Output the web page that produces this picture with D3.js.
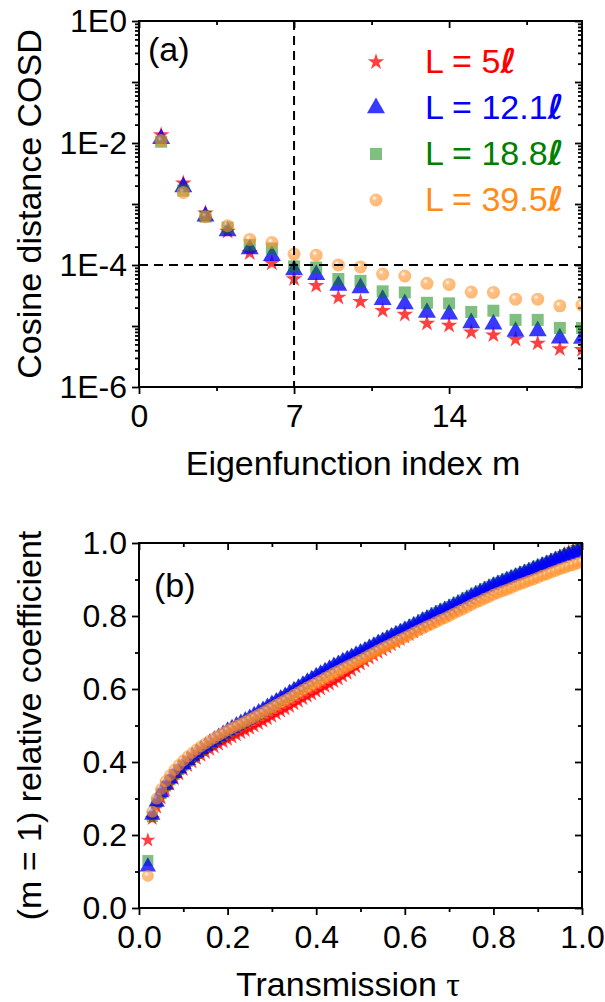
<!DOCTYPE html>
<html>
<head>
<meta charset="utf-8">
<script src="https://cdn.jsdelivr.net/npm/d3@7"></script>
<style>
body { margin: 0; background: #fff; }
svg { display: block; font-family: "Liberation Sans", Arial, sans-serif; }
</style>
</head>
<body>
<svg id="chart"></svg>
<script>
let w = 605;
let h = 1002;

// ---- panel (a): cosine distance vs eigenfunction index
let modeIndex = [1, 2, 3, 4, 5, 6, 7, 8, 9, 10, 11, 12, 13, 14, 15, 16, 17, 18, 19, 20];
let cosdL5 = [1.35e-2, 2.2e-3, 7.1e-4, 3.55e-4, 1.58e-4, 1.07e-4, 5.9e-5, 4.6e-5, 2.95e-5, 2.5e-5,
    1.78e-5, 1.55e-5, 1.1e-5, 1.02e-5, 7.9e-6, 7.1e-6, 6.0e-6, 5.2e-6, 4.2e-6, 4.1e-6];
let cosdL12 = [1.17e-2, 1.9e-3, 6.3e-4, 3.6e-4, 1.82e-4, 1.41e-4, 8.3e-5, 6.9e-5, 4.6e-5, 4.2e-5,
    2.7e-5, 2.3e-5, 1.66e-5, 1.55e-5, 1.12e-5, 1.07e-5, 8.1e-6, 8.3e-6, 6.3e-6, 6.2e-6];
let cosdL18 = [1.05e-2, 1.66e-3, 6.2e-4, 4.1e-4, 2.14e-4, 1.86e-4, 9.5e-5, 9.1e-5, 5.9e-5, 5.5e-5,
    3.7e-5, 3.55e-5, 2.4e-5, 2.35e-5, 1.7e-5, 1.78e-5, 1.26e-5, 1.26e-5, 9.3e-6, 9.3e-6];
let cosdL39 = [1.1e-2, 1.55e-3, 6.2e-4, 4.4e-4, 2.63e-4, 2.34e-4, 1.51e-4, 1.45e-4, 1.0e-4, 9.3e-5,
    7.1e-5, 6.6e-5, 5.0e-5, 4.8e-5, 3.6e-5, 3.55e-5, 2.75e-5, 2.75e-5, 2.14e-5, 2.2e-5];
let yTicksA = [1, 1e-2, 1e-4, 1e-6];
let yTickLabelsA = ['1E0', '1E-2', '1E-4', '1E-6'];
let xTicksA = [0, 7, 14];
let cutIndex = 7;
let cutCosd = 1e-4;

// ---- panel (b): relative coefficient of m = 1 vs transmission
let tau = d3.range(2, 101).map(i => i / 100);
let coefL5 = [.186,.245,.276,.301,.322,.339,.354,.367,.379,.390,
    .400,.409,.418,.426,.434,.441,.448,.455,.462,.468,
    .474,.480,.486,.492,.498,.505,.511,.518,.525,.532,
    .539,.545,.552,.559,.566,.573,.580,.586,.593,.600,
    .607,.613,.620,.627,.635,.643,.651,.660,.668,.676,
    .684,.692,.700,.707,.714,.721,.728,.735,.742,.749,
    .756,.763,.770,.777,.784,.791,.797,.803,.810,.816,
    .823,.830,.837,.844,.851,.857,.864,.870,.877,.882,
    .887,.892,.897,.903,.909,.915,.921,.927,.933,.940,
    .946,.952,.958,.964,.970,.976,.982,.988,.994];
let coefL12 = [.113,.255,.290,.316,.337,.354,.369,.382,.394,.405,
    .416,.426,.435,.444,.453,.461,.469,.477,.486,.493,
    .500,.507,.514,.521,.528,.536,.543,.551,.559,.566,
    .574,.581,.589,.597,.604,.612,.620,.627,.635,.642,
    .649,.656,.663,.669,.676,.682,.688,.694,.700,.706,
    .713,.719,.726,.732,.738,.744,.750,.756,.762,.768,
    .774,.780,.787,.793,.799,.805,.811,.816,.822,.828,
    .834,.840,.846,.853,.859,.865,.871,.877,.883,.888,
    .893,.898,.903,.908,.913,.918,.923,.928,.933,.938,
    .943,.948,.953,.958,.963,.967,.971,.975,.979];
let coefL18 = [.130,.250,.288,.313,.334,.351,.366,.379,.391,.402,
    .413,.423,.432,.441,.450,.458,.466,.474,.483,.490,
    .497,.504,.511,.518,.525,.533,.540,.548,.556,.564,
    .572,.579,.587,.595,.603,.611,.619,.626,.634,.641,
    .648,.655,.662,.669,.676,.682,.688,.694,.700,.707,
    .714,.720,.727,.733,.739,.746,.752,.758,.764,.770,
    .777,.783,.790,.796,.802,.809,.815,.820,.826,.832,
    .838,.844,.851,.857,.863,.869,.875,.881,.887,.892,
    .897,.902,.907,.912,.917,.922,.927,.932,.937,.942,
    .947,.952,.957,.962,.967,.972,.976,.981,.986];
let coefL39 = [.088,.264,.300,.326,.347,.364,.379,.392,.404,.415,
    .425,.434,.443,.451,.459,.466,.473,.480,.487,.493,
    .499,.505,.511,.517,.523,.530,.536,.543,.550,.557,
    .564,.570,.577,.584,.591,.598,.605,.611,.618,.624,
    .631,.637,.644,.650,.656,.662,.668,.674,.680,.686,
    .693,.699,.706,.712,.718,.724,.730,.736,.742,.748,
    .754,.760,.766,.772,.777,.783,.789,.794,.800,.806,
    .812,.818,.824,.830,.836,.841,.847,.852,.858,.863,
    .868,.872,.877,.882,.887,.891,.896,.900,.905,.910,
    .914,.919,.923,.928,.932,.936,.940,.944,.948];
let ticksB = [0, 0.2, 0.4, 0.6, 0.8, 1.0];
let minorTicksB = [0.1, 0.3, 0.5, 0.7, 0.9];

let legendNames = ['5', '12.1', '18.8', '39.5'];

// styles
let markerFill = ['#ff0000', '#0000ff', '#008000', 'url(#ball)'];
let markerOpacity = [0.75, 0.78, 0.5, 0.62];
let textColor = ['#ff0000', '#0000ff', '#008000', '#ff8c1a'];
let symbols = [d3.symbolStar, d3.symbolTriangle, d3.symbolSquare, d3.symbolCircle];
let sizesA = [85, 140, 144, 133];
let sizesB = [70, 115, 121, 113];

let svg = d3.select('#chart').attr('width', w).attr('height', h);
let defs = svg.append('defs');
let grad = defs.append('radialGradient').attr('id', 'ball')
    .attr('cx', '38%').attr('cy', '35%').attr('r', '65%');
grad.append('stop').attr('offset', '0%').attr('stop-color', '#ffffff');
grad.append('stop').attr('offset', '30%').attr('stop-color', '#ff9a3a');
grad.append('stop').attr('offset', '100%').attr('stop-color', '#ff8a1a');

let left = 139, right = 582;

let styleAxis = (g) => {
    g.select('.domain').remove();
    g.selectAll('line').attr('stroke', '#000').attr('stroke-width', 1.8);
    g.selectAll('text').attr('font-size', 32).attr('fill', '#000')
        .attr('font-family', '"Liberation Sans", Arial, sans-serif');
};

let drawFrame = (top, bottom) => {
    svg.append('rect')
        .attr('x', left).attr('y', top)
        .attr('width', right - left).attr('height', bottom - top)
        .attr('fill', 'none').attr('stroke', '#000').attr('stroke-width', 2);
};

let drawMarkers = (g, xs, ys, sx, sy, k, sizes) => {
    g.append('g')
        .selectAll('path')
        .data(xs.map((x, i) => [x, ys[i]]))
        .enter()
        .append('path')
        .attr('d', d3.symbol().type(symbols[k]).size(sizes[k]))
        .attr('transform', d => 'translate(' + sx(d[0]) + ',' + sy(d[1]) + ')')
        .attr('fill', markerFill[k])
        .attr('fill-opacity', markerOpacity[k]);
};

// ================= panel (a)
let topA = 21, botA = 387;
let xA = d3.scaleLinear().domain([0, 20]).range([left, right]);
let yA = d3.scaleLog().domain([1e-6, 1]).range([botA, topA]);

defs.append('clipPath').attr('id', 'clipA').append('rect')
    .attr('x', left).attr('y', topA).attr('width', right - left).attr('height', botA - topA);

let decades = [1, 1e-1, 1e-2, 1e-3, 1e-4, 1e-5, 1e-6];
let minorLog = [];
decades.slice(1).forEach(d => {
    for (let k = 2; k <= 9; k++) minorLog.push(d * k);
});

// bottom
svg.append('g').attr('transform', 'translate(0,' + botA + ')')
    .call(d3.axisBottom(xA).tickValues(xTicksA).tickSize(7).tickPadding(10).tickFormat(d3.format('d')))
    .call(styleAxis);
svg.append('g').attr('transform', 'translate(0,' + botA + ')')
    .call(d3.axisBottom(xA).tickValues([3.5, 10.5, 17.5]).tickSize(4).tickFormat(''))
    .call(styleAxis);
// top (inward)
svg.append('g').attr('transform', 'translate(0,' + topA + ')')
    .call(d3.axisBottom(xA).tickValues(xTicksA).tickSize(7).tickFormat(''))
    .call(styleAxis);
svg.append('g').attr('transform', 'translate(0,' + topA + ')')
    .call(d3.axisBottom(xA).tickValues([3.5, 10.5, 17.5]).tickSize(4).tickFormat(''))
    .call(styleAxis);
// left
svg.append('g').attr('transform', 'translate(' + left + ',0)')
    .call(d3.axisLeft(yA).tickValues(decades).tickSize(7).tickPadding(5)
        .tickFormat(d => {
            let i = yTicksA.findIndex(t => Math.abs(Math.log10(t) - Math.log10(d)) < 1e-6);
            return i >= 0 ? yTickLabelsA[i] : '';
        }))
    .call(styleAxis);
svg.append('g').attr('transform', 'translate(' + left + ',0)')
    .call(d3.axisLeft(yA).tickValues(minorLog).tickSize(4).tickFormat(''))
    .call(styleAxis);
// right (inward)
svg.append('g').attr('transform', 'translate(' + right + ',0)')
    .call(d3.axisLeft(yA).tickValues(decades).tickSize(7).tickFormat(''))
    .call(styleAxis);
svg.append('g').attr('transform', 'translate(' + right + ',0)')
    .call(d3.axisLeft(yA).tickValues(minorLog).tickSize(4).tickFormat(''))
    .call(styleAxis);

let plotA = svg.append('g').attr('clip-path', 'url(#clipA)');
[cosdL5, cosdL12, cosdL18, cosdL39].forEach((s, k) => {
    drawMarkers(plotA, modeIndex, s, xA, yA, k, sizesA);
});

// guide lines
svg.append('line')
    .attr('x1', xA(cutIndex)).attr('x2', xA(cutIndex))
    .attr('y1', topA).attr('y2', botA)
    .attr('stroke', '#000').attr('stroke-width', 2).attr('stroke-dasharray', '9,6');
svg.append('line')
    .attr('x1', left).attr('x2', right)
    .attr('y1', yA(cutCosd)).attr('y2', yA(cutCosd))
    .attr('stroke', '#000').attr('stroke-width', 2).attr('stroke-dasharray', '9,6');

drawFrame(topA, botA);

// legend
let legend = svg.append('g');
legendNames.forEach((name, k) => {
    let yy = 62 + k * 46;
    legend.append('path')
        .attr('d', d3.symbol().type(symbols[k]).size(sizesA[k]))
        .attr('transform', 'translate(376,' + yy + ')')
        .attr('fill', markerFill[k])
        .attr('fill-opacity', markerOpacity[k]);
    let t = legend.append('text')
        .attr('x', 425).attr('y', yy + 11)
        .attr('font-size', 34)
        .attr('fill', textColor[k]);
    t.append('tspan').text('L = ' + name);
    t.append('tspan').attr('font-style', 'italic').attr('font-weight', 'bold')
        .attr('font-family', '"DejaVu Sans", sans-serif').text('ℓ');
});

svg.append('text').attr('x', 148).attr('y', 61).attr('font-size', 34).text('(a)');

svg.append('text')
    .attr('transform', 'translate(41,' + ((topA + botA) / 2) + ') rotate(-90)')
    .attr('text-anchor', 'middle').attr('font-size', 34)
    .text('Cosine distance COSD');
svg.append('text')
    .attr('x', 353).attr('y', 475)
    .attr('text-anchor', 'middle').attr('font-size', 34)
    .text('Eigenfunction index m');

// ================= panel (b)
let topB = 543, botB = 908;
let xB = d3.scaleLinear().domain([0, 1]).range([left, right]);
let yB = d3.scaleLinear().domain([0, 1]).range([botB, topB]);

defs.append('clipPath').attr('id', 'clipB').append('rect')
    .attr('x', left).attr('y', topB).attr('width', right - left).attr('height', botB - topB);

let fmt = d3.format('.1f');
svg.append('g').attr('transform', 'translate(0,' + botB + ')')
    .call(d3.axisBottom(xB).tickValues(ticksB).tickSize(7).tickPadding(10).tickFormat(fmt))
    .call(styleAxis);
svg.append('g').attr('transform', 'translate(0,' + botB + ')')
    .call(d3.axisBottom(xB).tickValues(minorTicksB).tickSize(4).tickFormat(''))
    .call(styleAxis);
svg.append('g').attr('transform', 'translate(0,' + topB + ')')
    .call(d3.axisBottom(xB).tickValues(ticksB).tickSize(7).tickFormat(''))
    .call(styleAxis);
svg.append('g').attr('transform', 'translate(0,' + topB + ')')
    .call(d3.axisBottom(xB).tickValues(minorTicksB).tickSize(4).tickFormat(''))
    .call(styleAxis);
svg.append('g').attr('transform', 'translate(' + left + ',0)')
    .call(d3.axisLeft(yB).tickValues(ticksB).tickSize(7).tickPadding(5).tickFormat(fmt))
    .call(styleAxis);
svg.append('g').attr('transform', 'translate(' + left + ',0)')
    .call(d3.axisLeft(yB).tickValues(minorTicksB).tickSize(4).tickFormat(''))
    .call(styleAxis);
svg.append('g').attr('transform', 'translate(' + right + ',0)')
    .call(d3.axisLeft(yB).tickValues(ticksB).tickSize(7).tickFormat(''))
    .call(styleAxis);
svg.append('g').attr('transform', 'translate(' + right + ',0)')
    .call(d3.axisLeft(yB).tickValues(minorTicksB).tickSize(4).tickFormat(''))
    .call(styleAxis);

// green first so the blue band stays on top with green fringes
let plotB = svg.append('g').attr('clip-path', 'url(#clipB)');
let seriesB = [coefL5, coefL12, coefL18, coefL39];
[0, 2, 1, 3].forEach(k => {
    drawMarkers(plotB, tau, seriesB[k], xB, yB, k, sizesB);
});

drawFrame(topB, botB);

svg.append('text').attr('x', 154).attr('y', 597).attr('font-size', 34).text('(b)');

svg.append('text')
    .attr('transform', 'translate(41,' + ((topB + botB) / 2) + ') rotate(-90)')
    .attr('text-anchor', 'middle').attr('font-size', 34)
    .text('(m = 1) relative coefficient');
let xt = svg.append('text')
    .attr('x', 348).attr('y', 996)
    .attr('text-anchor', 'middle').attr('font-size', 34);
xt.append('tspan').text('Transmission ');
xt.append('tspan').attr('font-family', '"Liberation Serif", serif').text('τ');
</script>
</body>
</html>
